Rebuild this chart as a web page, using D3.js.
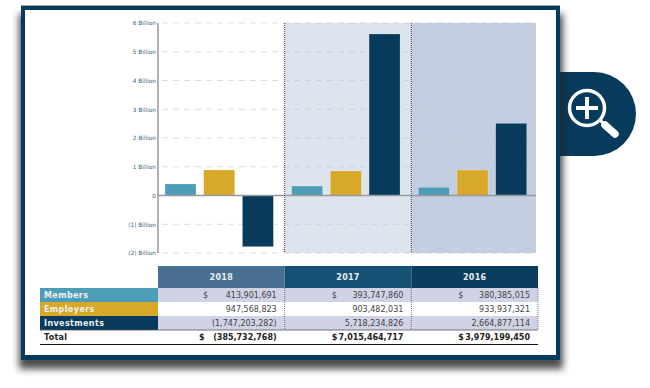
<!DOCTYPE html>
<html>
<head>
<meta charset="utf-8">
<script src="https://cdn.jsdelivr.net/npm/d3@7/dist/d3.min.js"></script>
<style>
  html, body { margin: 0; padding: 0; background: #fff; }
  svg { display: block; font-family: "DejaVu Sans", sans-serif; }
</style>
</head>
<body>
<svg id="chart" width="650" height="388"></svg>
<script>
// DATA
const years = ["2018", "2017", "2016"];
const seriesNames = ["Members", "Employers", "Investments"];

// table values
const members = [413901691, 393747860, 380385015];
const employers = [947568823, 903482031, 933937321];
const investments = [-1747203282, 5718234826, 2664877114];
const totals = [-385732768, 7015464717, 3979199450];

// bar heights, in billions (they sit a bit off the table)
const membersBars = [0.40, 0.33, 0.285];
const employersBars = [0.887, 0.852, 0.887];
const investmentsBars = [-1.78, 5.617, 2.51];

const tickValues = [-2, -1, 0, 1, 2, 3, 4, 5, 6];
const tickLabels = ["(2) Billion", "(1) Billion", "0", "1 Billion", "2 Billion", "3 Billion", "4 Billion", "5 Billion", "6 Billion"];

const seriesValues = [members, employers, investments];
const seriesBars = [membersBars, employersBars, investmentsBars];
const seriesColors = ["#4e9db8", "#d8a828", "#073b5c"];
const panelColors = ["#ffffff", "#dde4ed", "#c3cfe0"];
const headerColors = ["#4a7091", "#155275", "#0a3d5f"];

const svg = d3.select("#chart");

// shadow filter
const defs = svg.append("defs");
defs.append("filter").attr("id", "blur")
  .attr("x", "-10%").attr("y", "-10%").attr("width", "120%").attr("height", "120%")
  .append("feGaussianBlur").attr("stdDeviation", 3.5);

// Tab with magnifier, behind the frame
const tab = d3.path();
tab.moveTo(550, 72);
tab.lineTo(594, 72);
tab.arc(594, 114, 42, -Math.PI / 2, Math.PI / 2);
tab.lineTo(550, 156);
tab.closePath();
svg.append("path").attr("d", tab.toString()).attr("fill", "#073b5c");

const icon = svg.append("g").attr("fill", "none").attr("stroke", "#fff").attr("stroke-linecap", "round");
icon.append("circle").attr("cx", 587).attr("cy", 108).attr("r", 17.5).attr("stroke-width", 3.5);
icon.append("path").attr("d", "M576 108H598M587 97V119").attr("stroke-width", 4).attr("stroke-linecap", "butt");
icon.append("path").attr("d", "M605 125L615 134").attr("stroke-width", 7.5);
icon.append("path").attr("d", "M600 120L606 126").attr("stroke-width", 3);

// Frame
svg.append("rect").attr("x", 19).attr("y", 14).attr("width", 544).attr("height", 355)
  .attr("fill", "#222").attr("opacity", 0.8).attr("filter", "url(#blur)");
svg.append("rect").attr("x", 21).attr("y", 5).attr("width", 539).attr("height", 1).attr("fill", "#9aa5ad");
svg.append("rect").attr("x", 21).attr("y", 6).attr("width", 539).attr("height", 354).attr("fill", "#073b5c");
svg.append("rect").attr("x", 25).attr("y", 10).attr("width", 531).attr("height", 345).attr("fill", "#fff");

// Scales
const x = d3.scaleBand().domain(years).range([158, 538]);
const inner = d3.scaleBand().domain(seriesNames).range([0, x.bandwidth()])
  .paddingInner(0.2).paddingOuter(0.2365).align(0.383);
const y = d3.scaleLinear().domain([-2, 6]).range([253, 23]);

// Column panels
svg.append("g").selectAll("rect").data(years).join("rect")
  .attr("x", d => x(d))
  .attr("y", y(6))
  .attr("width", (d, i) => i === 2 ? x.bandwidth() - 2 : x.bandwidth())
  .attr("height", y(-2) - y(6))
  .attr("fill", (d, i) => panelColors[i]);

// Tick labels
const yAxis = d3.axisLeft(y)
  .tickValues(tickValues)
  .tickSize(0)
  .tickFormat((d, i) => tickLabels[i]);
const axisG = svg.append("g").attr("transform", "translate(158,0)").call(yAxis);
axisG.select(".domain").remove();
axisG.selectAll("text").attr("font-size", 5.8).attr("font-family", "DejaVu Sans").attr("fill", "#3f5f7a").attr("x", -2);

// Gridlines
svg.append("g").selectAll("line").data(tickValues.filter(d => d !== 0)).join("line")
  .attr("x1", 162).attr("x2", 536)
  .attr("y1", d => y(d)).attr("y2", d => y(d))
  .attr("stroke", "#bcc4cc").attr("stroke-opacity", 0.7).attr("stroke-width", 0.8).attr("stroke-dasharray", "6 5");

// Bars
seriesNames.forEach((name, s) => {
  svg.append("g").selectAll("rect").data(seriesBars[s]).join("rect")
    .attr("x", (d, i) => x(years[i]) + inner(name))
    .attr("y", d => y(Math.max(0, d)))
    .attr("width", inner.bandwidth())
    .attr("height", d => Math.abs(y(d) - y(0)))
    .attr("fill", seriesColors[s])
    .attr("stroke", "#fff").attr("stroke-opacity", 0.4).attr("stroke-width", 0.5);
});

// Axis lines and column separators
svg.append("line").attr("x1", 158).attr("x2", 158).attr("y1", y(6)).attr("y2", y(-2))
  .attr("stroke", "#999").attr("stroke-width", 1.5);
svg.append("line").attr("x1", 158).attr("x2", 536).attr("y1", y(0)).attr("y2", y(0))
  .attr("stroke", "#999").attr("stroke-width", 1.5);
svg.append("g").selectAll("line").data(years.slice(1)).join("line")
  .attr("x1", d => x(d)).attr("x2", d => x(d))
  .attr("y1", y(6)).attr("y2", y(-2))
  .attr("stroke", "#444").attr("stroke-width", 1).attr("stroke-dasharray", "1 1");

// Table
const rowY = d3.scaleBand().domain([...seriesNames, "Total"]).range([288, 344]);
const rightPad = 8;
const fmt = d3.format("(,");
const dollarOffset = [45, 47, 47];
const totalDollarOffset = [41, 47, 47];
const table = svg.append("g").attr("font-size", 8);

table.selectAll(".head").data(years).join("rect")
  .attr("class", "head")
  .attr("x", d => x(d)).attr("y", 266)
  .attr("width", x.bandwidth()).attr("height", 22)
  .attr("fill", (d, i) => headerColors[i]);
table.selectAll(".headText").data(years).join("text")
  .attr("class", "headText")
  .attr("x", d => x(d) + x.bandwidth() / 2).attr("y", 280)
  .attr("text-anchor", "middle").attr("font-weight", "bold").attr("letter-spacing", 0.3)
  .attr("fill", "#e8edf2").text(d => d);

seriesNames.forEach((name, s) => {
  const ry = rowY(name), rh = rowY.bandwidth();
  table.append("rect").attr("x", 40).attr("y", ry).attr("width", 118).attr("height", rh).attr("fill", seriesColors[s]);
  table.append("text").attr("x", 44).attr("y", ry + 10).attr("font-weight", "bold").attr("letter-spacing", 0.4).attr("fill", "#eef2f5").text(name);
  if (s !== 1) {
    table.append("rect").attr("x", 158).attr("y", ry).attr("width", 380).attr("height", rh).attr("fill", "#d0d3e6");
  }
  years.forEach((yr, i) => {
    table.append("text")
      .attr("x", x(yr) + x.bandwidth() - rightPad).attr("y", ry + 10)
      .attr("text-anchor", "end").attr("fill", "#444")
      .text(fmt(seriesValues[s][i]));
    if (s === 0) {
      table.append("text").attr("x", x(yr) + dollarOffset[i]).attr("y", ry + 10).attr("fill", "#444").text("$");
    }
  });
});

// Dotted lines between the year columns in the table
table.selectAll(".sep").data(years.slice(1).concat(["end"])).join("line")
  .attr("class", "sep")
  .attr("x1", d => d === "end" ? 538 : x(d)).attr("x2", d => d === "end" ? 538 : x(d))
  .attr("y1", 288).attr("y2", 330)
  .attr("stroke", "#555").attr("stroke-width", 0.8).attr("stroke-dasharray", "1 1");

// Total row
const totalY = rowY("Total");
table.append("text").attr("x", 44).attr("y", totalY + 10).attr("font-weight", "bold").attr("letter-spacing", 0.3).attr("fill", "#222").text("Total");
years.forEach((yr, i) => {
  table.append("text")
    .attr("x", x(yr) + x.bandwidth() - rightPad).attr("y", totalY + 10)
    .attr("text-anchor", "end").attr("font-weight", "bold").attr("fill", "#222")
    .text(fmt(totals[i]));
  table.append("text")
    .attr("x", x(yr) + totalDollarOffset[i]).attr("y", totalY + 10)
    .attr("font-weight", "bold").attr("fill", "#222").text("$");
});
table.append("line").attr("x1", 40).attr("x2", 538).attr("y1", totalY).attr("y2", totalY).attr("stroke", "#555").attr("stroke-width", 0.8);
table.append("line").attr("x1", 40).attr("x2", 538).attr("y1", totalY + 14.5).attr("y2", totalY + 14.5).attr("stroke", "#111").attr("stroke-width", 1);
</script>
</body>
</html>
